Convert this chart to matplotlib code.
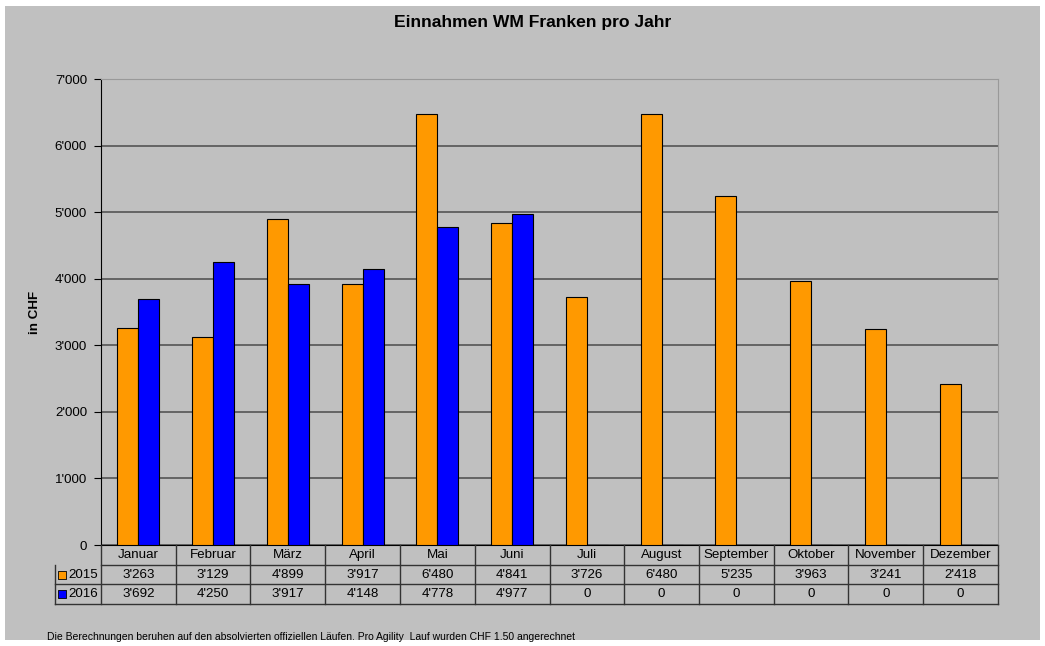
import numpy as np
import matplotlib.pyplot as plt
from matplotlib.patches import Rectangle
from matplotlib.ticker import FuncFormatter

plt.rcParams['font.family'] = ['Liberation Sans', 'DejaVu Sans']

months = ['Januar', 'Februar', 'März', 'April', 'Mai', 'Juni', 'Juli',
          'August', 'September', 'Oktober', 'November', 'Dezember']
v2015 = [3263, 3129, 4899, 3917, 6480, 4841, 3726, 6480, 5235, 3963, 3241, 2418]
v2016 = [3692, 4250, 3917, 4148, 4778, 4977, 0, 0, 0, 0, 0, 0]
series = ['2015', '2016']
colors = ['#FF9900', '#0000FF']

W, H = 1045, 646
bg = '#C0C0C0'
fs = 9.6


def fmt(v):
    return f'{int(v):,}'.replace(',', "'")


fig = plt.figure(figsize=(W / 100, H / 100), dpi=100)
fig.patch.set_facecolor('white')
fig.patches.append(Rectangle((5 / W, 1 - 640 / H), 1035 / W, 634 / H,
                             transform=fig.transFigure, facecolor=bg,
                             edgecolor='none', zorder=-10))

# main plot area
left, right, top, bottom = 101, 998, 79, 545
ax = fig.add_axes([left / W, 1 - bottom / H, (right - left) / W, (bottom - top) / H])
ax.set_facecolor(bg)
x = np.arange(len(months))
bw = 0.28
ax.bar(x - bw / 2, v2015, bw, color=colors[0], edgecolor='black', linewidth=0.8, zorder=3)
ax.bar(x + bw / 2, v2016, bw, color=colors[1], edgecolor='black', linewidth=0.8, zorder=3)
ax.set_xlim(-0.5, len(months) - 0.5)
ax.set_ylim(0, 7000)
ax.set_yticks(np.arange(0, 7001, 1000))
ax.yaxis.set_major_formatter(FuncFormatter(lambda v, p: fmt(v)))
ax.tick_params(axis='y', direction='out', length=5, width=0.8, labelsize=fs, pad=5)
ax.set_xticks([])
ax.grid(axis='y', color='#555555', linewidth=1.2, zorder=0)
for s in ['top', 'right']:
    ax.spines[s].set_color('#999999')
ax.spines['left'].set_color('black')
ax.spines['bottom'].set_color('black')
ax.set_ylabel('in CHF', fontsize=fs, fontweight='bold', labelpad=10)

fig.text(533 / W, 1 - 22 / H, 'Einnahmen WM Franken pro Jahr', ha='center',
         va='center', fontsize=12.6, fontweight='bold')

# data table below the plot
legw = (left - 55) / ((right - left) / len(months))
tab = fig.add_axes([55 / W, 1 - 604 / H, (right - 55) / W, (604 - bottom) / H])
tab.set_xlim(-0.5 - legw, len(months) - 0.5)
tab.set_ylim(3, 0)
tab.axis('off')
lc = '#333333'
for r in range(1, 4):
    x0 = -0.5 if r == 1 else -0.5 - legw
    tab.plot([x0, len(months) - 0.5], [r, r], color=lc, lw=1, clip_on=False)
tab.plot([-0.5 - legw, -0.5 - legw], [1, 3], color=lc, lw=1, clip_on=False)
for i in range(len(months) + 1):
    tab.plot([i - 0.5, i - 0.5], [0, 3], color=lc, lw=1, clip_on=False)
for i, m in enumerate(months):
    tab.text(i, 0.5, m, ha='center', va='center', fontsize=fs)
    tab.text(i, 1.5, fmt(v2015[i]), ha='center', va='center', fontsize=fs)
    tab.text(i, 2.5, fmt(v2016[i]), ha='center', va='center', fontsize=fs)
for r, (name, c) in enumerate(zip(series, colors)):
    tab.scatter([-0.5 - legw + 0.1], [r + 1.5], marker='s', s=28, color=c,
                edgecolor='black', linewidth=0.6, clip_on=False)
    tab.text(-0.5 - legw + 0.18, r + 1.5, name, ha='left', va='center', fontsize=fs)

fig.text(47 / W, 1 - 637 / H,
         'Die Berechnungen beruhen auf den absolvierten offiziellen Läufen. '
         'Pro Agility  Lauf wurden CHF 1.50 angerechnet',
         ha='left', va='center', fontsize=7.5)

fig.savefig('out.png', dpi=100, facecolor=fig.get_facecolor())
